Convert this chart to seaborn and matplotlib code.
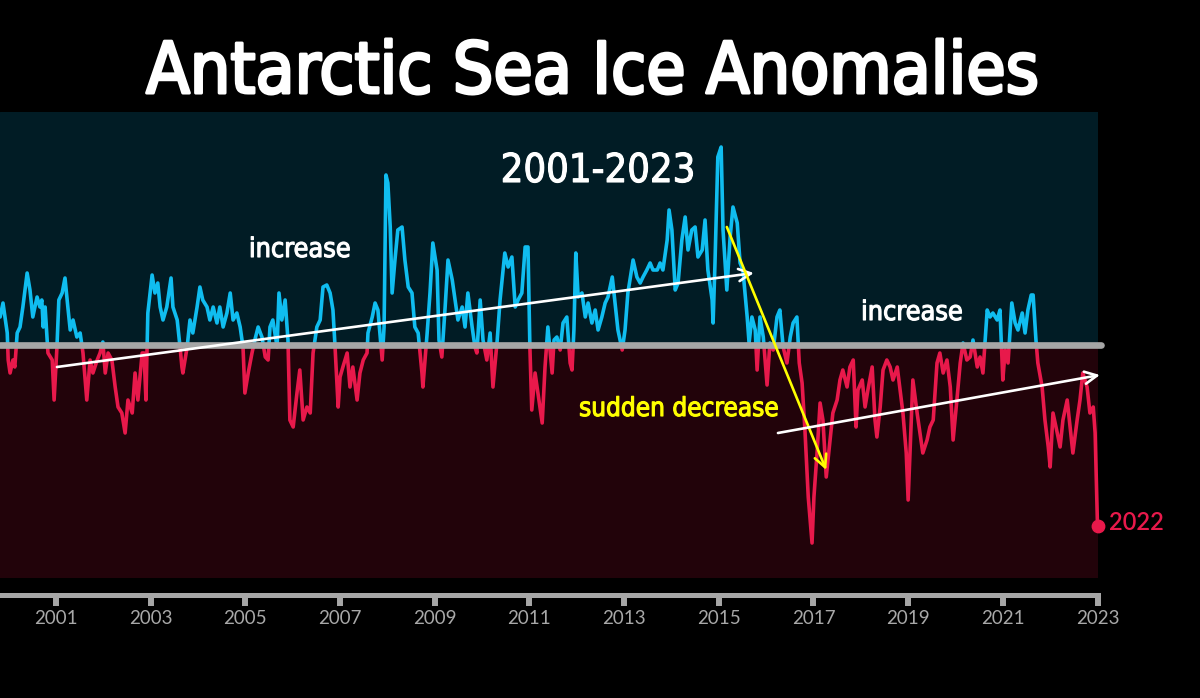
import numpy as np
import pandas as pd
import matplotlib
matplotlib.use('agg')
import matplotlib.pyplot as plt
import matplotlib.patheffects as pe
from matplotlib import font_manager
from matplotlib.patches import Rectangle
import seaborn as sns

### Antarctic sea ice extent anomaly (decimal year, million km2)
years_00_05 = [1999.82, 1999.88, 1999.97, 1999.99, 2000.03, 2000.09, 2000.13, 2000.18, 2000.24, 2000.30,
               2000.39, 2000.45, 2000.51, 2000.60, 2000.66, 2000.70, 2000.73, 2000.77, 2000.83, 2000.92,
               2000.96, 2001.02, 2001.06, 2001.13, 2001.19, 2001.25, 2001.30, 2001.36, 2001.44, 2001.51,
               2001.57, 2001.65, 2001.72, 2001.78, 2001.87, 2001.93, 2001.99, 2002.04, 2002.10, 2002.18,
               2002.25, 2002.31, 2002.39, 2002.46, 2002.52, 2002.61, 2002.67, 2002.73, 2002.82, 2002.86,
               2002.90, 2002.94, 2003.03, 2003.09, 2003.15, 2003.20, 2003.26, 2003.34, 2003.43, 2003.47,
               2003.56, 2003.62, 2003.66, 2003.68, 2003.77, 2003.83, 2003.89, 2003.98, 2004.04, 2004.10,
               2004.19, 2004.25, 2004.32, 2004.40, 2004.46, 2004.53, 2004.61, 2004.68, 2004.74, 2004.82,
               2004.89, 2004.95, 2004.99, 2005.06, 2005.14, 2005.20, 2005.27, 2005.35, 2005.42, 2005.48,
               2005.52, 2005.58, 2005.67, 2005.71]
anom_00_05 = [0.28, 0.42, 0.12, -0.15, -0.28, -0.15, -0.22, 0.12, 0.18, 0.38,
              0.72, 0.55, 0.28, 0.48, 0.38, 0.45, 0.18, 0.38, -0.08, -0.15,
              -0.55, -0.02, 0.45, 0.52, 0.67, 0.38, 0.15, 0.25, 0.08, 0.12,
              -0.08, -0.55, -0.15, -0.28, -0.15, -0.08, 0.03, -0.28, -0.08, -0.15,
              -0.42, -0.62, -0.68, -0.88, -0.55, -0.68, -0.28, -0.55, -0.08, -0.08,
              -0.55, 0.32, 0.70, 0.52, 0.62, 0.38, 0.25, 0.38, 0.67, 0.38,
              0.25, -0.02, -0.22, -0.28, -0.02, 0.25, 0.12, 0.38, 0.58, 0.45,
              0.38, 0.25, 0.38, 0.22, 0.38, 0.18, 0.32, 0.52, 0.25, 0.32,
              0.18, -0.02, -0.48, -0.28, -0.08, 0.05, 0.18, 0.08, -0.12, -0.15,
              0.18, 0.25, -0.02, 0.52]

years_05_11 = [2005.77, 2005.84, 2005.90, 2005.94, 2006.01, 2006.09, 2006.15, 2006.22, 2006.30, 2006.37,
               2006.43, 2006.51, 2006.58, 2006.64, 2006.72, 2006.79, 2006.85, 2006.89, 2006.96, 2007.00,
               2007.06, 2007.15, 2007.21, 2007.27, 2007.36, 2007.42, 2007.49, 2007.57, 2007.59, 2007.68,
               2007.74, 2007.80, 2007.89, 2007.93, 2007.97, 2008.01, 2008.06, 2008.10, 2008.16, 2008.22,
               2008.31, 2008.37, 2008.44, 2008.52, 2008.58, 2008.65, 2008.73, 2008.75, 2008.84, 2008.90,
               2008.96, 2009.05, 2009.09, 2009.15, 2009.22, 2009.28, 2009.37, 2009.43, 2009.49, 2009.58,
               2009.64, 2009.70, 2009.79, 2009.85, 2009.89, 2009.96, 2010.02, 2010.10, 2010.17, 2010.23,
               2010.32, 2010.38, 2010.48, 2010.55, 2010.63, 2010.70, 2010.76, 2010.84, 2010.91, 2010.97,
               2011.01, 2011.05, 2011.12, 2011.18, 2011.27, 2011.33, 2011.39, 2011.48, 2011.52]
anom_05_11 = [0.25, 0.45, 0.05, -0.75, -0.82, -0.48, -0.25, -0.75, -0.62, -0.68,
              -0.08, 0.18, 0.25, 0.58, 0.60, 0.52, 0.35, 0.02, -0.62, -0.32,
              -0.22, -0.08, -0.42, -0.22, -0.55, -0.28, -0.15, -0.08, 0.12, 0.28,
              0.42, 0.35, -0.15, 0.18, 1.70, 1.62, 1.18, 0.52, 0.85, 1.15,
              1.18, 0.85, 0.58, 0.52, 0.18, 0.12, -0.28, -0.42, 0.12, 0.52,
              1.02, 0.75, 0.05, -0.12, 0.38, 0.85, 0.65, 0.45, 0.25, 0.38,
              0.18, 0.52, 0.18, -0.02, -0.08, 0.45, 0.05, -0.15, 0.12, -0.42,
              0.05, 0.45, 0.92, 0.78, 0.88, 0.38, 0.45, 0.52, 0.98, 0.98,
              -0.02, -0.65, -0.28, -0.48, -0.78, -0.22, 0.18, -0.28, 0.05]

years_11_16 = [2011.58, 2011.65, 2011.71, 2011.79, 2011.86, 2011.90, 2011.94, 2011.98, 2012.03, 2012.11,
               2012.18, 2012.24, 2012.32, 2012.39, 2012.45, 2012.53, 2012.60, 2012.66, 2012.75, 2012.81,
               2012.87, 2012.96, 2013.02, 2013.08, 2013.19, 2013.27, 2013.34, 2013.40, 2013.48, 2013.55,
               2013.61, 2013.70, 2013.76, 2013.82, 2013.91, 2013.95, 2014.01, 2014.08, 2014.14, 2014.22,
               2014.29, 2014.35, 2014.43, 2014.50, 2014.56, 2014.65, 2014.71, 2014.77, 2014.86, 2014.88,
               2014.92, 2014.98, 2015.05, 2015.09, 2015.17, 2015.24, 2015.30, 2015.39, 2015.45, 2015.51,
               2015.60, 2015.64, 2015.70, 2015.77, 2015.81, 2015.87, 2015.94, 2016.02, 2016.08, 2016.15,
               2016.23, 2016.29, 2016.36, 2016.44, 2016.51, 2016.57, 2016.65, 2016.70]
anom_11_16 = [0.08, -0.05, 0.22, 0.28, -0.18, -0.25, 0.15, 0.92, 0.48, 0.52,
              0.28, 0.42, 0.22, 0.35, 0.15, 0.28, 0.42, 0.48, 0.68, 0.42,
              0.15, -0.05, 0.15, 0.52, 0.85, 0.68, 0.62, 0.68, 0.75, 0.82,
              0.75, 0.75, 0.82, 0.75, 1.05, 1.35, 1.15, 0.55, 0.62, 1.05,
              1.28, 0.95, 1.15, 1.18, 0.88, 0.95, 1.25, 0.75, 0.45, 0.22,
              0.82, 1.88, 1.98, 1.15, 0.55, 1.08, 1.38, 1.22, 0.82, 0.75,
              0.28, 0.02, 0.28, 0.15, -0.25, 0.28, 0.08, -0.40, 0.02, -0.05,
              0.28, 0.35, -0.02, -0.18, 0.08, 0.22, 0.28, -0.18]

years_16_23 = [2016.76, 2016.82, 2016.89, 2016.97, 2017.01, 2017.08, 2017.14, 2017.20, 2017.27, 2017.35,
               2017.41, 2017.50, 2017.56, 2017.62, 2017.71, 2017.77, 2017.84, 2017.90, 2017.94, 2018.03,
               2018.09, 2018.15, 2018.24, 2018.30, 2018.34, 2018.41, 2018.47, 2018.55, 2018.62, 2018.68,
               2018.77, 2018.83, 2018.89, 2018.96, 2019.00, 2019.06, 2019.10, 2019.19, 2019.25, 2019.31,
               2019.40, 2019.46, 2019.53, 2019.61, 2019.67, 2019.74, 2019.82, 2019.89, 2019.95, 2020.03,
               2020.10, 2020.16, 2020.24, 2020.31, 2020.37, 2020.46, 2020.52, 2020.58, 2020.67, 2020.73,
               2020.79, 2020.88, 2020.94, 2021.00, 2021.05, 2021.11, 2021.19, 2021.26, 2021.32, 2021.41,
               2021.47, 2021.53, 2021.60, 2021.64, 2021.70, 2021.74, 2021.83, 2021.89, 2021.96, 2022.00,
               2022.06, 2022.15, 2022.21, 2022.27, 2022.36, 2022.42, 2022.48, 2022.57, 2022.63, 2022.69,
               2022.78, 2022.84, 2022.91, 2022.95, 2023.00]
anom_16_23 = [-0.38, -0.85, -1.52, -1.98, -1.52, -1.05, -0.58, -0.75, -1.32, -0.95,
              -0.68, -0.55, -0.35, -0.25, -0.42, -0.22, -0.15, -0.82, -0.45, -0.35,
              -0.62, -0.45, -0.22, -0.75, -0.92, -0.62, -0.25, -0.15, -0.22, -0.35,
              -0.22, -0.45, -0.68, -1.08, -1.55, -0.82, -0.35, -0.68, -0.88, -1.08,
              -0.95, -0.82, -0.75, -0.18, -0.08, -0.28, -0.15, -0.42, -0.95, -0.55,
              -0.18, 0.02, -0.15, -0.12, 0.05, -0.22, -0.12, -0.28, 0.35, 0.28,
              0.32, 0.25, 0.35, -0.35, -0.05, -0.18, 0.42, 0.22, 0.15, 0.32,
              0.12, 0.35, 0.50, 0.50, 0.05, -0.18, -0.42, -0.75, -1.02, -1.22,
              -0.68, -0.88, -1.02, -0.75, -0.55, -0.82, -1.08, -0.75, -0.55, -0.28,
              -0.42, -0.68, -0.62, -0.88, -1.81]

tick_years = list(range(2001, 2024, 2))

# trend arrows (start, end) in (year, anomaly)
trend_up_1 = ((2001.02, -0.22), (2015.74, 0.72))
sudden_drop = ((2015.17, 1.18), (2017.27, -1.25))
trend_up_2 = ((2016.25, -0.88), (2023.05, -0.30))

BLUE = '#10bdf0'
RED = '#e8194b'
GRAY = '#a6a6a6'

df = pd.DataFrame({'year': years_00_05 + years_05_11 + years_11_16 + years_16_23,
                   'anomaly': anom_00_05 + anom_05_11 + anom_11_16 + anom_16_23})

sns.set_theme(style='dark', rc={'figure.facecolor': 'black', 'axes.facecolor': 'black'})
plt.rcParams['font.family'] = ['Lato', 'DejaVu Sans']

installed = {f.name for f in font_manager.fontManager.ttflist}
narrow = 'Liberation Sans Narrow' if 'Liberation Sans Narrow' in installed else 'DejaVu Sans'

fig = plt.figure(figsize=(12, 6.98), dpi=100)
ax = fig.add_axes([0, 120 / 698, 1097.5 / 1200, 466 / 698])
ax.set_xlim(1999.817, 2023.0)
ax.set_ylim(-2.33, 2.33)
ax.grid(False)

# blue panel above zero, dark red below
ax.axhspan(0, 2.33, color='#011c25', zorder=0)
ax.axhspan(-2.33, 0, color='#22030a', zorder=0)

# the same series twice, clipped to each side of zero
sns.lineplot(data=df, x='year', y='anomaly', ax=ax, color=BLUE, lw=2.6, sort=False, estimator=None, zorder=2)
ax.lines[-1].set_clip_path(Rectangle((1999, 0), 26, 5, transform=ax.transData))
sns.lineplot(data=df, x='year', y='anomaly', ax=ax, color=RED, lw=2.6, sort=False, estimator=None, zorder=2)
ax.lines[-1].set_clip_path(Rectangle((1999, -5), 26, 5, transform=ax.transData))

ax.axhline(0, xmin=0, xmax=1.003, color=GRAY, lw=4.8, zorder=3, clip_on=False)

last = df.iloc[-1]
ax.scatter([last.year], [last.anomaly], s=80, color=RED, zorder=5, clip_on=False)
ax.annotate('2022', (last.year, last.anomaly), xytext=(8, -3), textcoords='offset points',
            color=RED, fontsize=17, weight='semibold', va='baseline', ha='left', annotation_clip=False)

for (start, end), col in [(trend_up_1, 'white'), (sudden_drop, '#ffff00'), (trend_up_2, 'white')]:
    ax.annotate('', xy=end, xytext=start, annotation_clip=False,
                arrowprops=dict(arrowstyle='->', color=col, lw=1.9, mutation_scale=22,
                                shrinkA=0, shrinkB=0, clip_on=False), zorder=4)

def fit(txt, width_px):
    fig.canvas.draw()
    w = txt.get_window_extent().width
    txt.set_fontsize(txt.get_fontsize() * width_px / w)

lbl = dict(family=narrow, stretch='condensed', va='baseline', ha='center', zorder=6)
t1 = ax.text(2006.15, 0.88, 'increase', color='white', fontsize=24, **lbl)
t2 = ax.text(2019.08, 0.25, 'increase', color='white', fontsize=24, **lbl)
t3 = ax.text(2014.16, -0.71, 'sudden decrease', color='#ffff00', fontsize=24, **lbl)
t4 = ax.text(2012.45, 1.63, '2001-2023', color='white', fontsize=34, **lbl)
title = fig.text(592.5 / 1200, 1 - 93 / 698, 'Antarctic Sea Ice Anomalies', color='white',
                 family=narrow, stretch='condensed', weight='normal', fontsize=60, ha='center', va='baseline')
# slightly heavier strokes, the original face is a medium condensed one
title.set_path_effects([pe.withStroke(linewidth=2.2, foreground='white')])
for t in (t1, t2, t4):
    t.set_path_effects([pe.withStroke(linewidth=0.8, foreground='white')])
t3.set_path_effects([pe.withStroke(linewidth=0.8, foreground='#ffff00')])

# x axis sits below the panels
for side in ['left', 'right', 'top']:
    ax.spines[side].set_visible(False)
ax.spines['bottom'].set_visible(True)
ax.spines['bottom'].set_position(('outward', 12))
ax.spines['bottom'].set_color(GRAY)
ax.spines['bottom'].set_linewidth(3.6)
ax.set_xticks(tick_years)
ax.set_xticklabels([str(y) for y in tick_years])
ax.set_yticks([])
ax.tick_params(axis='x', bottom=True, length=8, width=4.3, pad=3, color=GRAY,
               labelcolor='#a8a8a8', labelsize=13.5)
ax.set_xlabel('')
ax.set_ylabel('')

fit(t1, 102)
fit(t2, 102)
fit(t3, 200)
fit(t4, 195)
fit(title, 893)

plt.savefig('out.png', dpi=100, facecolor='black')
plt.close(fig)
